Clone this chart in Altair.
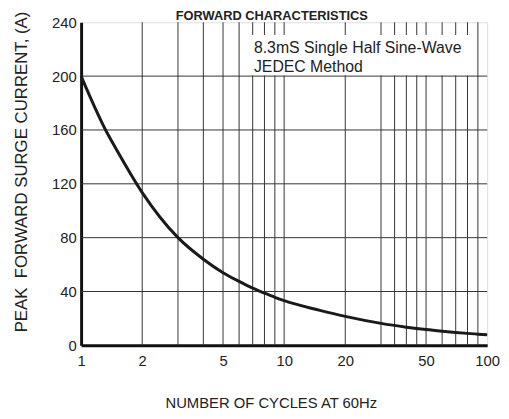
import altair as alt
import pandas as pd

# ---- data ----
curve_x = [1, 1.32, 1.5, 2, 3, 4, 5, 6, 7, 8, 9, 10, 15, 20, 30, 40, 50, 60, 70, 80, 90, 100]
curve_y = [200, 160, 145, 113.5, 80, 64, 54, 47.5, 42.5, 38.8, 35.7, 33.2, 26, 21.5,
           16.3, 13.5, 11.7, 10.5, 9.6, 8.9, 8.3, 7.9]
grid_x = [2, 3, 4, 5, 6, 7, 8, 9, 10, 20, 30, 35, 40, 45, 50, 60, 70, 80, 90]
grid_y = [40, 80, 120, 160, 200]
x_ticks = [1, 2, 5, 10, 20, 50, 100]
y_ticks = [0, 40, 80, 120, 160, 200, 240]
note_lines = ["8.3mS Single Half Sine-Wave", "JEDEC Method"]
note_x = [7.1, 7.1]
note_y = [217, 203]
box_x = [6.56, 87.7]
box_y = [200.5, 230.6]
title_text = ["FORWARD CHARACTERISTICS"]

SANS = "Liberation Sans, Arial, Helvetica, sans-serif"

curve_df = pd.DataFrame({"x": curve_x, "y": curve_y})
gx_df = pd.DataFrame({"x": grid_x})
gy_df = pd.DataFrame({"y": grid_y})
note_df = pd.DataFrame({"x": note_x, "y": note_y, "t": note_lines})
box_df = pd.DataFrame({"x": [box_x[0]], "x2": [box_x[1]], "y": [box_y[0]], "y2": [box_y[1]]})
title_df = pd.DataFrame({"t": title_text})

xscale = alt.Scale(type="log", domain=[1, 100], nice=False)
yscale = alt.Scale(domain=[0, 240], nice=False, zero=False)

xaxis = alt.Axis(values=x_ticks, format="d", title="NUMBER OF CYCLES AT 60Hz",
                 grid=False, ticks=False, domainColor="#111", domainWidth=3,
                 labelFont=SANS, labelFontSize=15, labelColor="#222", labelPadding=8,
                 labelFlush=False,
                 titleFont=SANS, titleFontSize=15, titleFontWeight="normal", titleColor="#222",
                 titleX=192, titleY=63, titleBaseline="alphabetic", titleAnchor="middle")
yaxis = alt.Axis(values=y_ticks, title="PEAK\u00a0 FORWARD SURGE CURRENT, (A)",
                 grid=False, ticks=False, domainColor="#111", domainWidth=3,
                 labelFont=SANS, labelFontSize=15, labelColor="#222", labelPadding=5,
                 labelFlush=False,
                 titleFont=SANS, titleFontSize=17, titleFontWeight="normal", titleColor="#222",
                 titleX=-55, titleY=151, titleBaseline="alphabetic", titleAngle=270,
                 titleAnchor="middle")

vgrid = alt.Chart(gx_df).mark_rule(color="#333", strokeWidth=1).encode(
    x=alt.X("x:Q", scale=xscale, axis=xaxis))
box = alt.Chart(box_df).mark_rect(fill="white").encode(
    x=alt.X("x:Q", scale=xscale), x2="x2:Q",
    y=alt.Y("y:Q", scale=yscale, axis=yaxis), y2="y2:Q")
hgrid = alt.Chart(gy_df).mark_rule(color="#333", strokeWidth=1).encode(
    y=alt.Y("y:Q", scale=yscale))
curve = alt.Chart(curve_df).mark_line(color="#1a1a1a", strokeWidth=3,
                                      interpolate="monotone").encode(
    x=alt.X("x:Q", scale=xscale), y=alt.Y("y:Q", scale=yscale))
note = alt.Chart(note_df).mark_text(align="left", baseline="alphabetic", font=SANS,
                                    fontSize=16, color="#222").encode(
    x=alt.X("x:Q", scale=xscale), y=alt.Y("y:Q", scale=yscale), text="t:N")
title = alt.Chart(title_df).mark_text(align="center", baseline="alphabetic", font=SANS,
                                      fontSize=13, fontWeight="bold", color="#222").encode(
    x=alt.value(193), y=alt.value(-2), text="t:N")

chart = alt.layer(vgrid, box, hgrid, curve, note, title).properties(
    width=411, height=327,
    autosize=alt.AutoSizeParams(type="none"),
    padding={"left": 74, "top": 12, "right": 14, "bottom": 64},
).configure_view(stroke="#555", strokeWidth=1.5).configure(background="white")

chart.save("out.html", embed_options={"renderer": "svg", "actions": False})
